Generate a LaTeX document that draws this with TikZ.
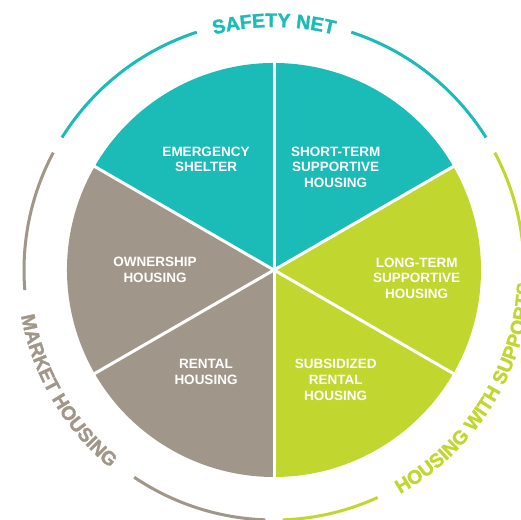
\documentclass[tikz,border=0pt]{standalone}
\usepackage{fontspec}
\setmainfont{Liberation Sans}
\newfontfamily\ringfam{Liberation Sans}[UprightFont=* Bold, FakeBold=1.5]
\usetikzlibrary{decorations.text}
\definecolor{tealc}{HTML}{1BBBB7}
\definecolor{taupe}{HTML}{A1968A}
\definecolor{limec}{HTML}{C1D72F}
\newcommand{\ringfont}{\ringfam\fontsize{19.5}{20}\selectfont}
\begin{document}
\begin{tikzpicture}[x=1pt,y=1pt,
  sector/.style={font=\bfseries\fontsize{13.5}{15.7}\selectfont, text=white, align=center, inner sep=0pt},
  ring/.style={line width=3pt},
  sepline/.style={white, line width=3pt},
  ringtext/.style={decorate, decoration={text along path, text align=center, text color=#1}}]
\useasboundingbox (0,0) rectangle (521,519);
\clip (0,0) rectangle (521,519);
\coordinate (O) at (274,249);
\begin{scope}[shift={(O)}]
\fill[tealc] (0,0) -- (30:207) arc[start angle=30,end angle=150,radius=207] -- cycle;
\fill[taupe] (0,0) -- (150:207) arc[start angle=150,end angle=270,radius=207] -- cycle;
\fill[limec] (0,0) -- (270:207) arc[start angle=270,end angle=390,radius=207] -- cycle;
\foreach \a in {30,90,...,330} \draw[sepline] (0,0) -- (\a:210);
% ring arcs
\draw[ring,tealc] (32:250) arc[start angle=32,end angle=72,radius=250];
\draw[ring,tealc] (108:250) arc[start angle=108,end angle=148,radius=250];
\draw[ring,taupe] (152:250) arc[start angle=152,end angle=184.6,radius=250];
\draw[ring,taupe] (236:250) arc[start angle=236,end angle=268,radius=250];
\draw[ring,limec] (272:250) arc[start angle=272,end angle=294.5,radius=250];
\draw[ring,limec] (4:250) arc[start angle=4,end angle=28,radius=250];
\end{scope}
% ring labels
\begin{scope}[shift={(O)}, execute at begin scope={\ringfont}]
\path[ringtext=tealc, decoration={text={|\ringfont|SAFETY NET}}]
  (108:243) arc[start angle=108,end angle=72,radius=243];
\path[ringtext=taupe, decoration={text={|\ringfont|MARKET HOUSING}}]
  (184.6:257) arc[start angle=184.6,end angle=236,radius=257];
\path[ringtext=limec, decoration={text={|\ringfont|HOUSING WITH SUPPORTS}}]
  (294.5:257) arc[start angle=294.5,end angle=362,radius=257];
\end{scope}
% sector labels
\node[sector] (es) at (206,359.5) {EMERGENCY\\SHELTER};
\node[sector] (sts) at (335.7,351.7) {SHORT-TERM\\SUPPORTIVE\\HOUSING};
\node[sector] (own) at (155,249) {OWNERSHIP\\HOUSING};
\node[sector] (lts) at (416.7,240.7) {LONG-TERM\\SUPPORTIVE\\HOUSING};
\node[sector] (ren) at (206,147.3) {RENTAL\\HOUSING};
\node[sector] (sub) at (335.7,139) {SUBSIDIZED\\RENTAL\\HOUSING};
\end{tikzpicture}
\end{document}
